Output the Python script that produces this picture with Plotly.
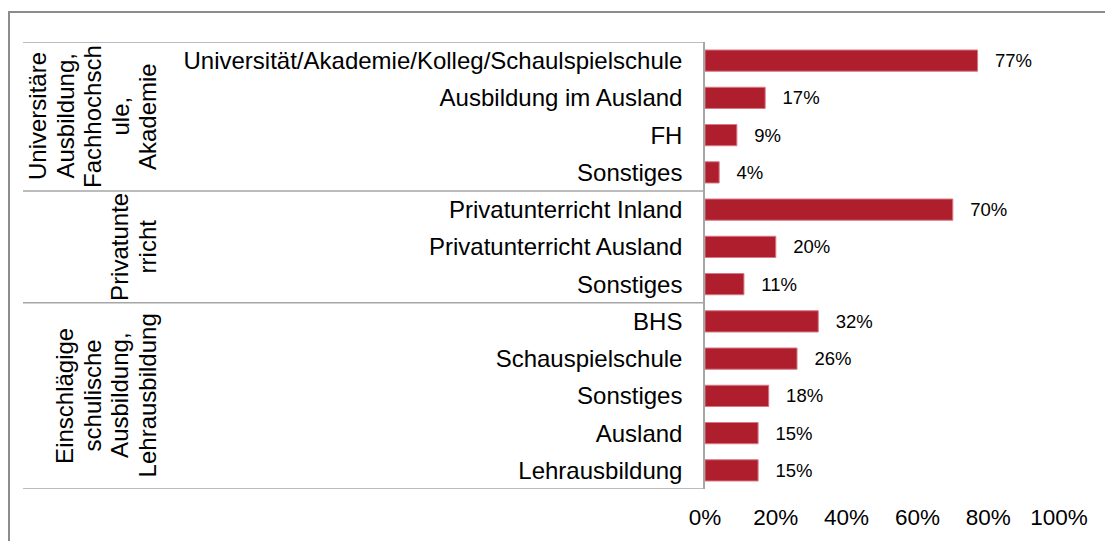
import plotly.graph_objects as go

# ---- data ----
categories = [
    "Universität/Akademie/Kolleg/Schaulspielschule",
    "Ausbildung im Ausland",
    "FH",
    "Sonstiges",
    "Privatunterricht Inland",
    "Privatunterricht Ausland",
    "Sonstiges",
    "BHS",
    "Schauspielschule",
    "Sonstiges",
    "Ausland",
    "Lehrausbildung",
]
values = [77, 17, 9, 4, 70, 20, 11, 32, 26, 18, 15, 15]
group_lines = [
    ["Universitäre", "Ausbildung,", "Fachhochsch", "ule,", "Akademie"],
    ["Privatunte", "rricht"],
    ["Einschlägige", "schulische", "Ausbildung,", "Lehrausbildung"],
]
group_sizes = [4, 3, 5]
x_ticks = [0, 20, 40, 60, 80, 100]
x_tick_labels = ["0%", "20%", "40%", "60%", "80%", "100%"]

# ---- layout helpers (page pixel -> paper, page body has 8px margin) ----
W, H = 1113, 541
OFF = 8
FONT = "Arial, Liberation Sans, sans-serif"
def px_x(p):
    return (p - OFF) / W
def px_y(p):
    return 1 - (p - OFF) / H

rows = list(range(len(categories)))
n = len(categories)

fig = go.Figure()
fig.add_trace(go.Bar(
    x=values,
    y=rows,
    orientation="h",
    width=0.57,
    marker=dict(color="#AF1E2D", line=dict(color="#D77985", width=1)),
    text=[f"\u2002\u00a0{v}%" for v in values],
    textposition="outside",
    textfont=dict(family=FONT, size=18.5, color="#000000"),
    cliponaxis=False,
    hoverinfo="skip",
))

shapes = []
# outer border
shapes.append(dict(type="rect", xref="paper", yref="paper",
                   x0=px_x(9), x1=px_x(W + 40), y0=px_y(H + 40), y1=px_y(12),
                   line=dict(color="#8C8C8C", width=2), fillcolor="rgba(0,0,0,0)", layer="below"))
# group separators
bounds = [-0.5]
acc = -0.5
for s in group_sizes:
    acc += s
    bounds.append(acc)
for b in bounds:
    shapes.append(dict(type="line", xref="paper", yref="y",
                       x0=px_x(23), x1=px_x(705), y0=b, y1=b,
                       line=dict(color="#A6A6A6", width=1.5)))

annotations = []
start = 0
for lines, s in zip(group_lines, group_sizes):
    yc = start + (s - 1) / 2
    k = len(lines)
    for j, t in enumerate(lines):
        xc = 147.5 - 27.5 * (k - 1 - j)
        annotations.append(dict(
            text=t, xref="paper", yref="y", x=px_x(xc), y=yc,
            xanchor="center", yanchor="middle", textangle=-90,
            showarrow=False, font=dict(family=FONT, size=24, color="#000000")))
    start += s

fig.update_layout(
    width=W, height=H, autosize=False,
    margin=dict(l=0, r=0, t=0, b=0, pad=0),
    paper_bgcolor="white", plot_bgcolor="white",
    showlegend=False,
    shapes=shapes,
    annotations=annotations,
    xaxis=dict(
        domain=[px_x(705), px_x(1059)],
        range=[0, 100],
        tickvals=x_ticks, ticktext=x_tick_labels,
        showgrid=False, zeroline=False, showline=False, ticks="",
        tickfont=dict(family=FONT, size=22.5, color="#000000"),
        ticklabelstandoff=12,
        automargin=False,
    ),
    yaxis=dict(
        domain=[px_y(489), px_y(42)],
        range=[n - 0.5, -0.5],
        tickvals=rows, ticktext=categories,
        showgrid=False, zeroline=False,
        showline=True, linecolor="#A6A6A6", linewidth=1.5,
        ticks="",
        tickfont=dict(family=FONT, size=24, color="#000000"),
        ticklabelstandoff=16,
        automargin=False,
    ),
    bargap=0.43,
)

fig.write_html("out.html")
